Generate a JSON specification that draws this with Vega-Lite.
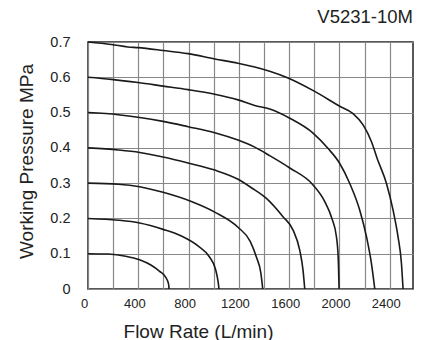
{
  "$schema": "https://vega.github.io/schema/vega-lite/v6.json",
  "width": 325,
  "height": 247,
  "autosize": {"type": "none"},
  "padding": {"left": 88, "top": 42, "right": 8, "bottom": 51},
  "background": "white",
  "config": {
    "font": "Liberation Sans",
    "view": {"stroke": "#222", "strokeWidth": 1.5}
  },
  "title": {
    "text": "V5231-10M",
    "anchor": "end",
    "fontSize": 18.5,
    "fontWeight": "normal",
    "color": "#222",
    "offset": 8
  },
  "data": {
    "values": [
      {"p": "0.1", "x": 0, "y": 0.1}, {"p": "0.1", "x": 160, "y": 0.099}, {"p": "0.1", "x": 300, "y": 0.093}, {"p": "0.1", "x": 410, "y": 0.083}, {"p": "0.1", "x": 500, "y": 0.068}, {"p": "0.1", "x": 570, "y": 0.05}, {"p": "0.1", "x": 620, "y": 0.032}, {"p": "0.1", "x": 640, "y": 0.015}, {"p": "0.1", "x": 645, "y": 0},
      {"p": "0.2", "x": 0, "y": 0.2}, {"p": "0.2", "x": 240, "y": 0.195}, {"p": "0.2", "x": 411, "y": 0.187}, {"p": "0.2", "x": 597, "y": 0.169}, {"p": "0.2", "x": 743, "y": 0.15}, {"p": "0.2", "x": 875, "y": 0.122}, {"p": "0.2", "x": 968, "y": 0.09}, {"p": "0.2", "x": 1015, "y": 0.055}, {"p": "0.2", "x": 1035, "y": 0.02}, {"p": "0.2", "x": 1042, "y": 0},
      {"p": "0.3", "x": 0, "y": 0.3}, {"p": "0.3", "x": 240, "y": 0.297}, {"p": "0.3", "x": 411, "y": 0.29}, {"p": "0.3", "x": 597, "y": 0.274}, {"p": "0.3", "x": 822, "y": 0.248}, {"p": "0.3", "x": 1008, "y": 0.218}, {"p": "0.3", "x": 1193, "y": 0.175}, {"p": "0.3", "x": 1290, "y": 0.135}, {"p": "0.3", "x": 1340, "y": 0.09}, {"p": "0.3", "x": 1375, "y": 0.045}, {"p": "0.3", "x": 1390, "y": 0},
      {"p": "0.4", "x": 0, "y": 0.4}, {"p": "0.4", "x": 240, "y": 0.394}, {"p": "0.4", "x": 411, "y": 0.387}, {"p": "0.4", "x": 597, "y": 0.374}, {"p": "0.4", "x": 796, "y": 0.357}, {"p": "0.4", "x": 1008, "y": 0.337}, {"p": "0.4", "x": 1193, "y": 0.311}, {"p": "0.4", "x": 1300, "y": 0.287}, {"p": "0.4", "x": 1419, "y": 0.257}, {"p": "0.4", "x": 1551, "y": 0.205}, {"p": "0.4", "x": 1631, "y": 0.167}, {"p": "0.4", "x": 1684, "y": 0.11}, {"p": "0.4", "x": 1710, "y": 0.054}, {"p": "0.4", "x": 1724, "y": 0},
      {"p": "0.5", "x": 0, "y": 0.5}, {"p": "0.5", "x": 240, "y": 0.494}, {"p": "0.5", "x": 597, "y": 0.475}, {"p": "0.5", "x": 796, "y": 0.46}, {"p": "0.5", "x": 1008, "y": 0.443}, {"p": "0.5", "x": 1193, "y": 0.422}, {"p": "0.5", "x": 1326, "y": 0.402}, {"p": "0.5", "x": 1445, "y": 0.378}, {"p": "0.5", "x": 1605, "y": 0.343}, {"p": "0.5", "x": 1790, "y": 0.295}, {"p": "0.5", "x": 1880, "y": 0.25}, {"p": "0.5", "x": 1940, "y": 0.2}, {"p": "0.5", "x": 1976, "y": 0.148}, {"p": "0.5", "x": 1990, "y": 0.09}, {"p": "0.5", "x": 1997, "y": 0},
      {"p": "0.6", "x": 0, "y": 0.6}, {"p": "0.6", "x": 186, "y": 0.594}, {"p": "0.6", "x": 398, "y": 0.585}, {"p": "0.6", "x": 597, "y": 0.575}, {"p": "0.6", "x": 796, "y": 0.565}, {"p": "0.6", "x": 1008, "y": 0.552}, {"p": "0.6", "x": 1193, "y": 0.536}, {"p": "0.6", "x": 1326, "y": 0.52}, {"p": "0.6", "x": 1445, "y": 0.51}, {"p": "0.6", "x": 1605, "y": 0.484}, {"p": "0.6", "x": 1790, "y": 0.442}, {"p": "0.6", "x": 1910, "y": 0.398}, {"p": "0.6", "x": 2000, "y": 0.357}, {"p": "0.6", "x": 2082, "y": 0.299}, {"p": "0.6", "x": 2161, "y": 0.224}, {"p": "0.6", "x": 2215, "y": 0.148}, {"p": "0.6", "x": 2254, "y": 0.073}, {"p": "0.6", "x": 2281, "y": 0},
      {"p": "0.7", "x": 0, "y": 0.7}, {"p": "0.7", "x": 186, "y": 0.693}, {"p": "0.7", "x": 318, "y": 0.686}, {"p": "0.7", "x": 398, "y": 0.684}, {"p": "0.7", "x": 597, "y": 0.676}, {"p": "0.7", "x": 796, "y": 0.667}, {"p": "0.7", "x": 1008, "y": 0.652}, {"p": "0.7", "x": 1193, "y": 0.64}, {"p": "0.7", "x": 1326, "y": 0.629}, {"p": "0.7", "x": 1445, "y": 0.617}, {"p": "0.7", "x": 1591, "y": 0.598}, {"p": "0.7", "x": 1803, "y": 0.56}, {"p": "0.7", "x": 2002, "y": 0.518}, {"p": "0.7", "x": 2108, "y": 0.497}, {"p": "0.7", "x": 2188, "y": 0.465}, {"p": "0.7", "x": 2254, "y": 0.418}, {"p": "0.7", "x": 2300, "y": 0.37}, {"p": "0.7", "x": 2374, "y": 0.299}, {"p": "0.7", "x": 2426, "y": 0.224}, {"p": "0.7", "x": 2466, "y": 0.148}, {"p": "0.7", "x": 2493, "y": 0.073}, {"p": "0.7", "x": 2506, "y": 0}
    ]
  },
  "mark": {"type": "line", "interpolate": "monotone", "color": "#1a1a1a", "strokeWidth": 1.6},
  "encoding": {
    "detail": {"field": "p", "type": "nominal"},
    "x": {
      "field": "x",
      "type": "quantitative",
      "scale": {"domain": [0, 2585], "nice": false, "zero": false},
      "axis": {
        "values": [0, 200, 400, 600, 800, 1000, 1200, 1400, 1600, 1800, 2000, 2200, 2400],
        "labelExpr": "datum.value % 400 == 0 ? format(datum.value, 'd') : ''",
        "grid": true,
        "gridColor": "#888",
        "gridWidth": 1.2,
        "gridOpacity": 1,
        "ticks": false,
        "domain": false,
        "labelFontSize": 13,
        "labelColor": "#222",
        "labelPadding": 8,
        "labelOffset": -4,
        "labelOverlap": false,
        "labelFlush": false,
        "title": "Flow Rate (L/min)",
        "titleFontSize": 19,
        "titleFontWeight": "normal",
        "titleColor": "#222",
        "titleX": 110,
        "titleY": 42,
        "titleAlign": "center",
        "titleBaseline": "middle"
      }
    },
    "y": {
      "field": "y",
      "type": "quantitative",
      "scale": {"domain": [0, 0.7], "nice": false},
      "axis": {
        "values": [0, 0.1, 0.2, 0.3, 0.4, 0.5, 0.6, 0.7],
        "labelExpr": "datum.value == 0 ? '0' : format(datum.value, '.1f')",
        "grid": true,
        "gridColor": "#888",
        "gridWidth": 1.2,
        "gridOpacity": 1,
        "ticks": false,
        "domain": false,
        "labelFontSize": 14.5,
        "labelColor": "#222",
        "labelPadding": 18,
        "labelOverlap": false,
        "labelFlush": false,
        "title": "Working Pressure MPa",
        "titleFontSize": 19,
        "titleFontWeight": "normal",
        "titleColor": "#222",
        "titleX": -62,
        "titleY": 119,
        "titleAlign": "center",
        "titleBaseline": "middle"
      }
    }
  }
}
